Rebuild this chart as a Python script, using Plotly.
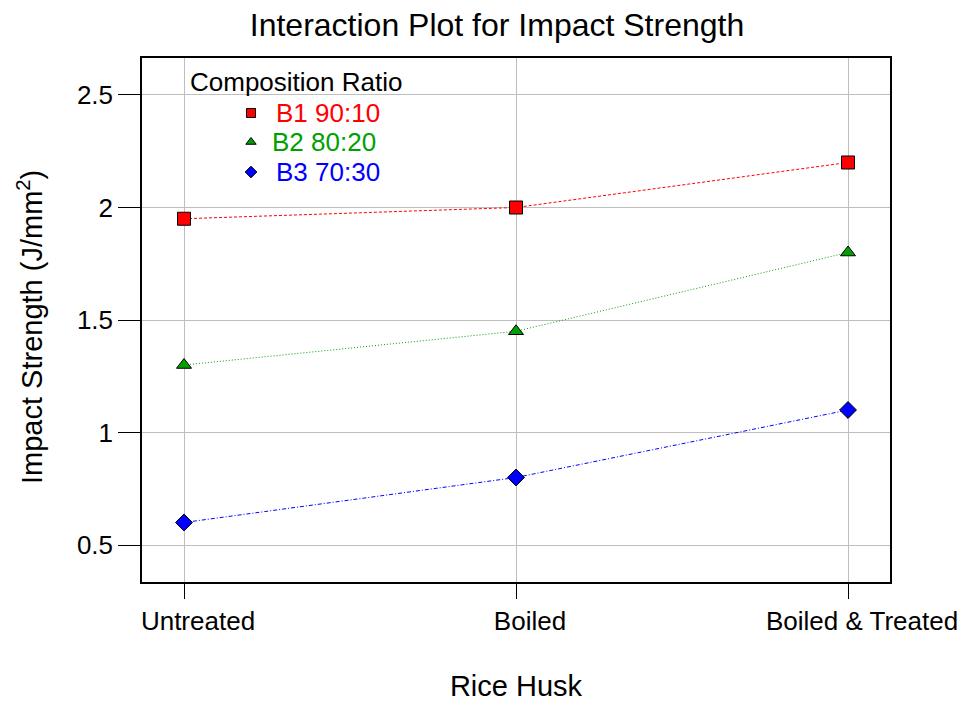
import plotly.graph_objects as go

categories = ["Untreated", "Boiled", "Boiled & Treated"]
b1_values = [1.95, 2.0, 2.2]
b2_values = [1.3, 1.45, 1.8]
b3_values = [0.6, 0.8, 1.1]
series_names = ["B1 90:10", "B2 80:20", "B3 70:30"]
series_colors = ["#ff0000", "#00a000", "#0000ff"]
series_symbols = ["square", "triangle-up", "diamond"]
series_dash = ["3px,2px", "1px,2px", "4px,2px,1px,2px"]
y_tickvals = [0.5, 1, 1.5, 2, 2.5]
y_ticktext = ["0.5", "1", "1.5", "2", "2.5"]
legend_title = "Composition Ratio"

FONT = "Arial, Liberation Sans, sans-serif"
W, H = 975, 702
L, R, T, B = 142, 85, 58, 120
PW, PH = W - L - R, H - T - B
xpos = list(range(len(categories)))

def px_x(p):
    return (p - L) / PW

def px_y(p):
    return 1 - (p - T) / PH

fig = go.Figure()
for vals, col, sym, dash in zip([b1_values, b2_values, b3_values],
                                series_colors, series_symbols, series_dash):
    fig.add_trace(go.Scatter(
        x=xpos, y=vals, mode="lines+markers", showlegend=False,
        line=dict(color=col, width=1, dash=dash),
        marker=dict(symbol=sym, size=13, color=col, line=dict(color="black", width=1)),
    ))

# legend (manual): markers on an overlay pixel axis, coloured text as annotations
leg_marker_x = 251 - L
leg_rows_y = [113, 142, 172]
leg_text_x = [274, 270, 274]
for i, (col, sym) in enumerate(zip(series_colors, series_symbols)):
    fig.add_trace(go.Scatter(
        x=[leg_marker_x], y=[leg_rows_y[i] - T], mode="markers", showlegend=False,
        xaxis="x2", yaxis="y2", hoverinfo="skip",
        marker=dict(symbol=sym, size=9, color=col, line=dict(color="black", width=1)),
    ))

annotations = [dict(text=legend_title, xref="paper", yref="paper",
                    x=px_x(188), y=px_y(82), xanchor="left", yanchor="middle",
                    showarrow=False, font=dict(size=26, family=FONT, color="black"))]
for i, (name, col) in enumerate(zip(series_names, series_colors)):
    annotations.append(dict(text=name, xref="paper", yref="paper",
                            x=px_x(leg_text_x[i]), y=px_y(leg_rows_y[i]),
                            xanchor="left", yanchor="middle", showarrow=False,
                            font=dict(size=26, family=FONT, color=col)))
annotations.append(dict(text="Impact Strength (J/mm<sup>2</sup>)", xref="paper", yref="paper",
                        x=px_x(30), y=px_y(327), xanchor="center", yanchor="middle",
                        textangle=-90, showarrow=False,
                        font=dict(size=29, family=FONT, color="black")))

fig.update_layout(
    width=W, height=H,
    margin=dict(l=L, r=R, t=T, b=B, autoexpand=False),
    paper_bgcolor="white", plot_bgcolor="white",
    font=dict(family=FONT, size=26, color="black"),
    title=dict(text="Interaction Plot for Impact Strength", x=497 / W, xanchor="center",
               y=1 - 25 / H, yanchor="middle", font=dict(size=32, family=FONT)),
    showlegend=False,
    annotations=annotations,
    xaxis=dict(
        range=[-0.1265, 2.1265], tickvals=xpos, ticktext=categories,
        showgrid=True, gridcolor="#bebebe", gridwidth=1, zeroline=False,
        showline=True, linecolor="black", linewidth=1.5, mirror=True,
        ticks="outside", ticklen=15, tickcolor="black", tickwidth=1,
        ticklabelshift=14, automargin=False,
        tickfont=dict(size=26), title=dict(text="Rice Husk", font=dict(size=29), standoff=41),
    ),
    yaxis=dict(
        range=[0.3356, 2.6644], tickvals=y_tickvals, ticktext=y_ticktext,
        showgrid=True, gridcolor="#bebebe", gridwidth=1, zeroline=False,
        showline=True, linecolor="black", linewidth=1.5, mirror=True,
        ticks="outside", ticklen=22, tickcolor="black", tickwidth=1,
        automargin=False,
        tickfont=dict(size=26),
    ),
    xaxis2=dict(range=[0, PW], overlaying="x", visible=False, fixedrange=True),
    yaxis2=dict(range=[PH, 0], overlaying="y", visible=False, fixedrange=True),
)
fig.write_html("out.html")
